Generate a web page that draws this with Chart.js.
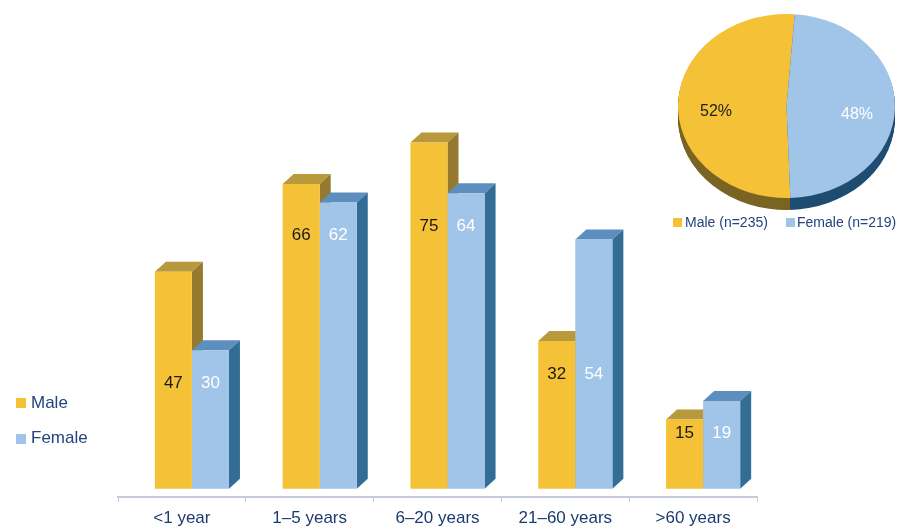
<!DOCTYPE html>
<html><head><meta charset="utf-8">
<script src="https://cdn.jsdelivr.net/npm/chart.js@4.4.0/dist/chart.umd.min.js"></script>
<style>
html,body{margin:0;padding:0;background:#fff;}
#wrap{position:relative;width:903px;height:528px;overflow:hidden;font-family:"Liberation Sans",Arial,sans-serif;}
#bar{position:absolute;left:0;top:0;}
#pie{position:absolute;left:670px;top:0;}
.lg{position:absolute;color:#24447d;white-space:nowrap;}
.sw{position:absolute;}
</style></head><body>
<div id="wrap">
<canvas id="bar" width="903" height="528"></canvas>
<canvas id="pie" width="233" height="230"></canvas>
<div class="sw" style="left:16px;top:398px;width:10px;height:10px;background:#F5C136"></div>
<div class="lg" style="left:31px;top:393px;font-size:17px;line-height:20px">Male</div>
<div class="sw" style="left:16px;top:434px;width:10px;height:10px;background:#A0C5E9"></div>
<div class="lg" style="left:31px;top:428px;font-size:17px;line-height:20px">Female</div>
<div class="sw" style="left:673px;top:218px;width:9px;height:9px;background:#F5C136"></div>
<div class="lg" id="pl0" style="left:685px;top:214px;font-size:14px;line-height:16px"></div>
<div class="sw" style="left:786px;top:218px;width:9px;height:9px;background:#A0C5E9"></div>
<div class="lg" id="pl1" style="left:797px;top:214px;font-size:14px;line-height:16px"></div>
</div>
<script>
const categories = ['<1 year', '1–5 years', '6–20 years', '21–60 years', '>60 years'];
const seriesNames = ['Male', 'Female'];
const maleValues = [47, 66, 75, 32, 15];
const femaleValues = [30, 62, 64, 54, 19];
const pieLabels = ['Male (n=235)', 'Female (n=219)'];
const pieCounts = [235, 219];

document.getElementById('pl0').textContent = pieLabels[0];
document.getElementById('pl1').textContent = pieLabels[1];

const FONT = '"Liberation Sans", Arial, sans-serif';
const maleFront = '#F5C136', maleCap = '#B89A3C', maleSide = '#94792E';
const femFront = '#A0C5E9', femCap = '#5C8FBF', femSide = '#336C95';
const depthX = 11, depthY = 10, shiftX = 10;

const bar3d = {
  id: 'bar3d',
  beforeDatasetsDraw(chart) {
    const ctx = chart.ctx;
    ctx.save();
    ctx.translate(shiftX, 0);
    const caps = [maleCap, femCap], sides = [maleSide, femSide];
    for (let i = 0; i < categories.length; i++) {
      for (let di = 0; di < chart.data.datasets.length; di++) {
        const el = chart.getDatasetMeta(di).data[i];
        const l = el.x - el.width / 2, r = el.x + el.width / 2, t = el.y, b = el.base;
        ctx.fillStyle = caps[di];
        ctx.beginPath();
        ctx.moveTo(l, t); ctx.lineTo(l + depthX, t - depthY); ctx.lineTo(r + depthX, t - depthY); ctx.lineTo(r, t);
        ctx.closePath(); ctx.fill();
        ctx.fillStyle = sides[di];
        ctx.beginPath();
        ctx.moveTo(r, t); ctx.lineTo(r + depthX, t - depthY); ctx.lineTo(r + depthX, b - depthY); ctx.lineTo(r, b);
        ctx.closePath(); ctx.fill();
      }
    }
  },
  afterDatasetsDraw(chart) {
    const ctx = chart.ctx;
    ctx.font = '17px ' + FONT;
    ctx.textAlign = 'center';
    ctx.textBaseline = 'middle';
    const colors = ['#1a1a1a', '#ffffff'];
    for (let i = 0; i < categories.length; i++) {
      const e0 = chart.getDatasetMeta(0).data[i], e1 = chart.getDatasetMeta(1).data[i];
      const lowTop = Math.max(e0.y, e1.y);
      const h = e0.base - lowTop;
      const y = lowTop + Math.min(33, 0.3 * h - 7);
      [e0, e1].forEach((el, di) => {
        ctx.fillStyle = colors[di];
        ctx.fillText(String(chart.data.datasets[di].data[i]), el.x, y);
      });
    }
    ctx.restore();
  }
};

new Chart(document.getElementById('bar'), {
  type: 'bar',
  data: {
    labels: categories,
    datasets: [
      { label: seriesNames[0], data: maleValues, backgroundColor: maleFront, borderWidth: 0 },
      { label: seriesNames[1], data: femaleValues, backgroundColor: femFront, borderWidth: 0 }
    ]
  },
  options: {
    responsive: false,
    animation: false,
    events: [],
    layout: { padding: { left: 118, right: 146, top: 27, bottom: 0 } },
    datasets: { bar: { categoryPercentage: 0.58, barPercentage: 1.0 } },
    plugins: { legend: { display: false }, tooltip: { enabled: false } },
    scales: {
      x: {
        afterFit(s) { s.height = 31; },
        grid: { display: true, drawOnChartArea: false, drawTicks: true, tickLength: 5, color: '#c3ccd8', lineWidth: 1, offset: true },
        border: { display: true, color: '#c3ccd8', width: 2 },
        ticks: { color: '#1c3a70', font: { family: FONT, size: 17 }, padding: 6, maxRotation: 0 }
      },
      y: { display: false, min: -1.8, max: 100 }
    }
  },
  plugins: [bar3d]
});

const pieK = 0.848, pieDepth = 12;
const pieFront = [maleFront, femFront];
const pieSide = ['#7a6424', '#1f4d72'];
const pie3d = {
  id: 'pie3d',
  beforeDatasetsDraw(chart) {
    const ctx = chart.ctx;
    const meta = chart.getDatasetMeta(0);
    const cx = meta.data[0].x, cy = meta.data[0].y;
    for (let d = pieDepth; d >= 1; d--) {
      meta.data.forEach((arc, i) => {
        ctx.save();
        ctx.translate(0, d);
        ctx.translate(cx, cy); ctx.scale(1, pieK); ctx.translate(-cx, -cy);
        ctx.fillStyle = pieSide[i];
        ctx.beginPath();
        ctx.moveTo(cx, cy);
        ctx.arc(cx, cy, arc.outerRadius, arc.startAngle, arc.endAngle);
        ctx.closePath(); ctx.fill();
        ctx.restore();
      });
    }
    ctx.save();
    ctx.translate(cx, cy); ctx.scale(1, pieK); ctx.translate(-cx, -cy);
  },
  afterDatasetsDraw(chart) {
    const ctx = chart.ctx;
    ctx.restore();
    const meta = chart.getDatasetMeta(0);
    const total = pieCounts.reduce((a, b) => a + b, 0);
    ctx.font = '16px ' + FONT;
    ctx.textAlign = 'center';
    ctx.textBaseline = 'middle';
    const colors = ['#222222', '#ffffff'];
    meta.data.forEach((arc, i) => {
      const mid = (arc.startAngle + arc.endAngle) / 2;
      const rr = arc.outerRadius * 0.65;
      const x = arc.x + Math.cos(mid) * rr;
      const y = arc.y + Math.sin(mid) * rr * pieK + 7;
      ctx.fillStyle = colors[i];
      ctx.fillText(Math.round(pieCounts[i] / total * 100) + '%', x, y);
    });
  }
};

new Chart(document.getElementById('pie'), {
  type: 'pie',
  data: {
    labels: pieLabels,
    datasets: [{ data: pieCounts, backgroundColor: pieFront, borderWidth: 0 }]
  },
  options: {
    responsive: false,
    animation: false,
    events: [],
    rotation: 178,
    radius: 108.5,
    layout: { padding: { left: 0, right: 0, top: 0, bottom: 18 } },
    plugins: { legend: { display: false }, tooltip: { enabled: false } }
  },
  plugins: [pie3d]
});
</script>
</body></html>
